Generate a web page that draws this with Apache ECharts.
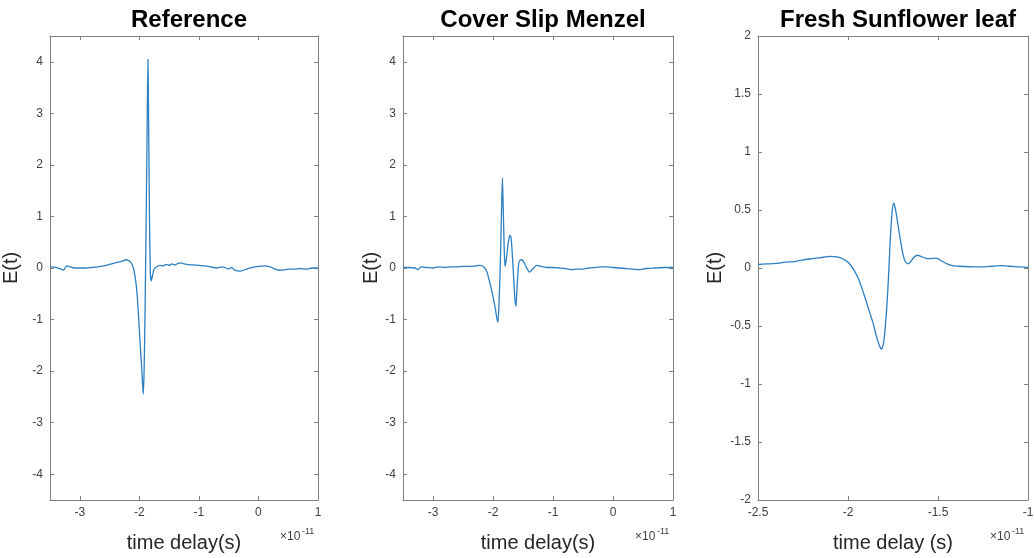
<!DOCTYPE html>
<html>
<head>
<meta charset="utf-8">
<script src="https://cdn.jsdelivr.net/npm/echarts@6/dist/echarts.min.js"></script>
<style>
html,body{margin:0;padding:0;background:#fff;}
#c{width:1034px;height:558px;}
</style>
</head>
<body>
<div id="c"></div>
<script>
// ---------- DATA (time in units of 1e-11 s) ----------
const titles = ['Reference', 'Cover Slip Menzel', 'Fresh Sunflower leaf'];
const xNames = ['time delay(s)', 'time delay(s)', 'time delay (s)'];
const yName = 'E(t)';

const refT = [-3.5,-3.4,-3.3,-3.27,-3.22,-3.18,-3.1,-3.0,-2.9,-2.8,-2.7,-2.6,-2.5,-2.4,-2.3,-2.22,-2.15,-2.1,-2.05,-2.02,-1.99,-1.96,-1.935,-1.92,-1.9,-1.88,-1.865,-1.855,-1.845,-1.83,-1.815,-1.8,-1.78,-1.75,-1.7,-1.65,-1.6,-1.55,-1.5,-1.45,-1.4,-1.35,-1.3,-1.25,-1.2,-1.1,-1.0,-0.9,-0.8,-0.7,-0.6,-0.5,-0.45,-0.4,-0.3,-0.2,-0.1,0.0,0.1,0.2,0.3,0.4,0.5,0.6,0.7,0.8,0.9,1.0];
const refE = [0.02,0.01,-0.03,-0.04,0.04,0.03,0.0,0.0,0.0,0.01,0.02,0.04,0.07,0.1,0.13,0.16,0.12,0.0,-0.35,-0.8,-1.4,-1.95,-2.45,-2.0,-0.5,1.5,3.2,4.05,3.0,1.0,-0.1,-0.25,-0.15,-0.02,0.03,0.05,0.04,0.07,0.05,0.08,0.06,0.09,0.1,0.08,0.07,0.06,0.05,0.04,0.02,0.0,0.02,-0.02,0.01,-0.04,-0.06,-0.02,0.01,0.03,0.04,0.02,-0.03,-0.04,-0.02,-0.02,-0.01,-0.02,0.0,0.0];

const coverT = [-3.5,-3.4,-3.3,-3.25,-3.2,-3.1,-3.0,-2.9,-2.8,-2.7,-2.6,-2.5,-2.4,-2.3,-2.22,-2.15,-2.1,-2.05,-2.0,-1.96,-1.935,-1.917,-1.9,-1.88,-1.86,-1.843,-1.83,-1.815,-1.8,-1.78,-1.75,-1.72,-1.7,-1.68,-1.655,-1.635,-1.617,-1.6,-1.575,-1.55,-1.52,-1.48,-1.44,-1.39,-1.34,-1.3,-1.26,-1.2,-1.1,-1.0,-0.9,-0.8,-0.7,-0.6,-0.5,-0.4,-0.3,-0.2,-0.1,0.0,0.1,0.2,0.3,0.45,0.55,0.7,0.85,1.0];
const coverE = [0.01,0.01,0.0,-0.03,0.02,0.01,0.0,0.02,0.01,0.02,0.02,0.03,0.03,0.04,0.05,0.02,-0.08,-0.3,-0.55,-0.8,-0.98,-1.05,-0.7,0.0,1.0,1.75,1.2,0.45,0.03,0.15,0.45,0.63,0.6,0.3,-0.2,-0.6,-0.74,-0.4,0.05,0.15,0.16,0.1,0.0,-0.08,-0.02,0.03,0.05,0.03,0.01,0.01,0.0,-0.01,-0.03,-0.02,-0.02,0.0,0.01,0.02,0.02,0.01,0.0,-0.01,-0.02,-0.03,-0.01,0.0,0.01,0.01];

const leafT = [-2.5,-2.45,-2.4,-2.35,-2.3,-2.25,-2.2,-2.15,-2.1,-2.06,-2.03,-2.0,-1.97,-1.94,-1.915,-1.89,-1.86,-1.84,-1.825,-1.813,-1.8,-1.785,-1.775,-1.765,-1.755,-1.747,-1.738,-1.725,-1.71,-1.695,-1.68,-1.665,-1.65,-1.635,-1.615,-1.595,-1.57,-1.545,-1.52,-1.5,-1.48,-1.45,-1.42,-1.38,-1.3,-1.25,-1.2,-1.15,-1.1,-1.05,-1.0];
const leafE = [0.03,0.035,0.04,0.05,0.055,0.07,0.08,0.09,0.1,0.095,0.08,0.05,-0.01,-0.1,-0.21,-0.33,-0.48,-0.6,-0.67,-0.7,-0.62,-0.35,-0.08,0.25,0.48,0.56,0.52,0.4,0.25,0.12,0.05,0.035,0.06,0.09,0.11,0.1,0.085,0.08,0.085,0.08,0.06,0.035,0.02,0.015,0.01,0.01,0.015,0.02,0.015,0.01,0.005];

const xTicksAB = [-3,-2,-1,0,1];
const yTicksAB = [-4,-3,-2,-1,0,1,2,3,4];
const xTicksC = [-2.5,-2,-1.5,-1];
const yTicksC = [-2,-1.5,-1,-0.5,0,0.5,1,1.5,2];

const scaleLabel = ['\u00d710', '-11'];

// ---------- CHART ----------
const zip = (a, b) => a.map((v, i) => [v, b[i]]);
const seriesData = [zip(refT, refE), zip(coverT, coverE), zip(leafT, leafE)];

const grids = [
  {left: 50, top: 36, width: 268, height: 464, containLabel: false, outerBoundsMode: 'none'},
  {left: 403, top: 36, width: 270, height: 464, containLabel: false, outerBoundsMode: 'none'},
  {left: 758, top: 36, width: 270, height: 464, containLabel: false, outerBoundsMode: 'none'}
];
const xRanges = [[-3.5, 1], [-3.5, 1], [-2.5, -1]];
const yRanges = [[-4.5, 4.5], [-4.5, 4.5], [-2, 2]];
const xTickSets = [xTicksAB, xTicksAB, xTicksC];
const yTickSets = [yTicksAB, yTicksAB, yTicksC];
const yNameGaps = [29, 21, 33];

const axisCol = '#7f7f7f';
const labCol = '#404040';
const FONT = 'Liberation Sans, Arial, sans-serif';

const xAxes = [], yAxes = [], series = [], title = [], graphic = [];
for (let i = 0; i < 3; i++) {
  const common = (ticks, show) => ({
    axisLine: {show: true, onZero: false, lineStyle: {color: axisCol, width: 1}},
    axisTick: {show: true, inside: true, length: 4, lineStyle: {color: axisCol}, customValues: ticks},
    axisLabel: {show: show, color: labCol, fontSize: 12, fontFamily: FONT, customValues: ticks, margin: 7},
    splitLine: {show: false}
  });
  xAxes.push(Object.assign({
    type: 'value', gridIndex: i, position: 'bottom', min: xRanges[i][0], max: xRanges[i][1],
    name: xNames[i], nameLocation: 'middle', nameGap: 33,
    nameTextStyle: {fontSize: 20, color: '#262626', fontFamily: FONT}
  }, common(xTickSets[i], true)));
  xAxes.push(Object.assign({
    type: 'value', gridIndex: i, position: 'top', min: xRanges[i][0], max: xRanges[i][1]
  }, common(xTickSets[i], false)));
  yAxes.push(Object.assign({
    type: 'value', gridIndex: i, position: 'left', min: yRanges[i][0], max: yRanges[i][1],
    name: yName, nameLocation: 'middle', nameGap: yNameGaps[i],
    nameTextStyle: {fontSize: 20, color: '#262626', fontFamily: FONT}
  }, common(yTickSets[i], true)));
  yAxes.push(Object.assign({
    type: 'value', gridIndex: i, position: 'right', min: yRanges[i][0], max: yRanges[i][1]
  }, common(yTickSets[i], false)));

  series.push({
    type: 'line', xAxisIndex: 2 * i, yAxisIndex: 2 * i, data: seriesData[i],
    showSymbol: false, symbol: 'none', smooth: 0.2,
    lineStyle: {color: '#2b7fc3', width: 1.3}, animation: false
  });

  const g = grids[i];
  title.push({
    text: titles[i], left: g.left + g.width / 2, top: 3, textAlign: 'center',
    textStyle: {fontSize: 24, fontWeight: 'bold', color: '#000', fontFamily: FONT}
  });
  const rx = g.left + g.width;
  graphic.push({type: 'text', left: rx - 38, top: 531, style: {text: scaleLabel[0], fontSize: 12, fill: labCol, fontFamily: FONT}});
  graphic.push({type: 'text', left: rx - 16, top: 527, style: {text: scaleLabel[1], fontSize: 9, fill: labCol, fontFamily: FONT}});
}

const chart = echarts.init(document.getElementById('c'));
chart.setOption({
  backgroundColor: '#fff',
  animation: false,
  title: title,
  grid: grids,
  xAxis: xAxes,
  yAxis: yAxes,
  series: series,
  graphic: graphic
});
</script>
</body>
</html>
